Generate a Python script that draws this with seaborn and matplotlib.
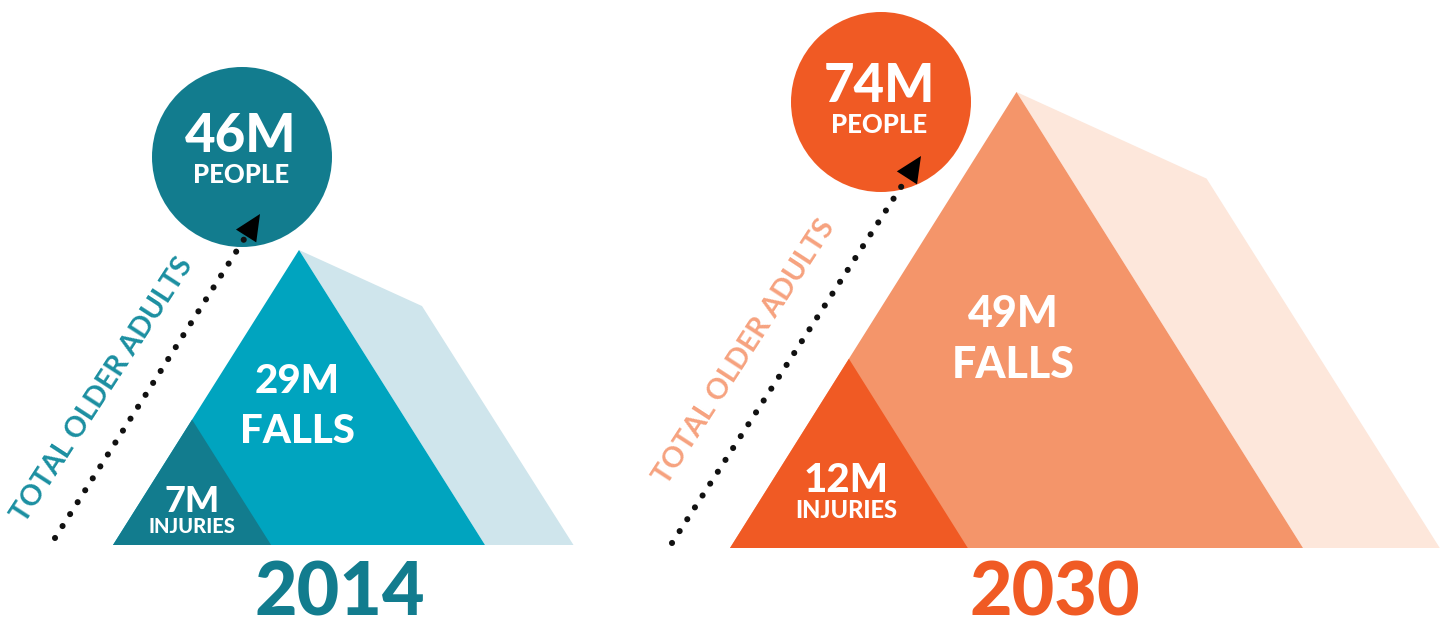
import numpy as np
import pandas as pd
import matplotlib
matplotlib.use("Agg")
import matplotlib.pyplot as plt
from matplotlib.patches import Polygon, Circle
import seaborn as sns

# ---------------- data ----------------
years = ["2014", "2030"]
people = [46, 74]          # total older adults (millions)
falls = [29, 49]           # falls (millions)
injuries = [7, 12]         # injuries (millions)
people_label = "PEOPLE"
falls_label = "FALLS"
injuries_label = "INJURIES"
axis_label = "TOTAL OLDER ADULTS"

# ---------------- styles ----------------
dark = ["#127c8e", "#f05a24"]
mid = ["#00a4bf", "#f4956a"]
light = ["#cfe5ec", "#fde7db"]
side_txt = ["#1b8fa1", "#f6a27f"]

# ---------------- layout (pixel space) ----------------
tri = [dict(x0=113, x1=485, yb=545, yt=250), dict(x0=730, x1=1303, yb=548, yt=92)]
inj_frac = [0.425, 0.415]
circles = [dict(cx=242, cy=157, r=90), dict(cx=881, cy=102, r=90)]
txt_x_people = [241, 879]
base_big = [152, 102]
base_small = [183, 133]
falls_txt = [dict(x=297, b1=393, b2=443, fs=29), dict(x=1013, b1=327, b2=378, fs=31)]
inj_txt = [dict(x=192, b1=512, b2=533, fs1=26, fs2=14.5), dict(x=846, b1=492, b2=518, fs1=29, fs2=17)]
year_pos = [(340, 616), (1055, 616)]
dots = [((55, 538), (260, 214)), ((672, 543), (921, 156))]
side_pos = [(103, 390, 57), (745, 352, 57)]

sns.set_theme(style="white")
plt.rcParams["font.family"] = ["Lato", "DejaVu Sans"]

fig = plt.figure(figsize=(14.41, 6.32), dpi=100)
ax = fig.add_axes([0, 0, 1, 1])

for i in range(2):
    t = tri[i]
    H = t["yb"] - t["yt"]
    apx = (t["x0"] + t["x1"]) / 2
    ax.add_patch(Polygon([(apx, t["yt"]), (apx + 0.417 * H, t["yt"] + 0.19 * H),
                          (t["x1"] + 0.30 * H, t["yb"]), (t["x1"], t["yb"])],
                         closed=True, fc=light[i], ec="none", zorder=1))
    ax.add_patch(Polygon([(t["x0"], t["yb"]), (apx, t["yt"]), (t["x1"], t["yb"])],
                         closed=True, fc=mid[i], ec="none", zorder=2))
    h = inj_frac[i] * H
    half = (apx - t["x0"]) * h / H
    ax.add_patch(Polygon([(t["x0"], t["yb"]), (t["x0"] + half, t["yb"] - h),
                          (t["x0"] + 2 * half, t["yb"])],
                         closed=True, fc=dark[i], ec="none", zorder=3))
    c = circles[i]
    ax.add_patch(Circle((c["cx"], c["cy"]), c["r"], fc=dark[i], ec="none", zorder=2))
    ax.text(txt_x_people[i], base_big[i], f"{people[i]}M", color="white", fontsize=38,
            fontweight="black", ha="center", va="baseline", zorder=5)
    ax.text(txt_x_people[i], base_small[i], people_label, color="white", fontsize=18.5,
            fontweight="black", ha="center", va="baseline", zorder=5)
    f = falls_txt[i]
    ax.text(f["x"], f["b1"], f"{falls[i]}M", color="white", fontsize=f["fs"],
            fontweight="black", ha="center", va="baseline", zorder=5)
    ax.text(f["x"], f["b2"], falls_label, color="white", fontsize=f["fs"],
            fontweight="black", ha="center", va="baseline", zorder=5)
    j = inj_txt[i]
    ax.text(j["x"], j["b1"], f"{injuries[i]}M", color="white", fontsize=j["fs1"],
            fontweight="black", ha="center", va="baseline", zorder=5)
    ax.text(j["x"], j["b2"], injuries_label, color="white", fontsize=j["fs2"],
            fontweight="black", ha="center", va="baseline", zorder=5)
    ax.text(year_pos[i][0], year_pos[i][1], years[i], color=dark[i], fontsize=53,
            fontweight="black", ha="center", va="baseline", zorder=5)
    (x0, y0), (x1, y1) = dots[i]
    u = np.array([x1 - x0, y1 - y0], float)
    u /= np.hypot(*u)
    n = np.array([-u[1], u[0]])
    tip = np.array([x1, y1], float)
    base = tip - 26 * u
    end = tip - 24 * u
    df = pd.DataFrame({"x": [x0, end[0]], "y": [y0, end[1]]})
    sns.lineplot(data=df, x="x", y="y", ax=ax, color="#111111", lw=4.4,
                 linestyle=(0, (0.01, 2.3)), dash_capstyle="round", sort=False,
                 estimator=None, zorder=6)
    ax.add_patch(Polygon([tip, base + 12 * n, base - 12 * n], closed=True,
                         fc="black", ec="none", zorder=7))
    sx, sy, rot = side_pos[i]
    ax.text(sx, sy, axis_label, color=side_txt[i], fontsize=20.5, fontweight="bold",
            rotation=rot, rotation_mode="anchor", ha="center", va="center", zorder=5)

ax.set_xlim(0, 1441)
ax.set_ylim(632, 0)
ax.set_xlabel("")
ax.set_ylabel("")
ax.axis("off")
fig.savefig("out.png", dpi=100)
